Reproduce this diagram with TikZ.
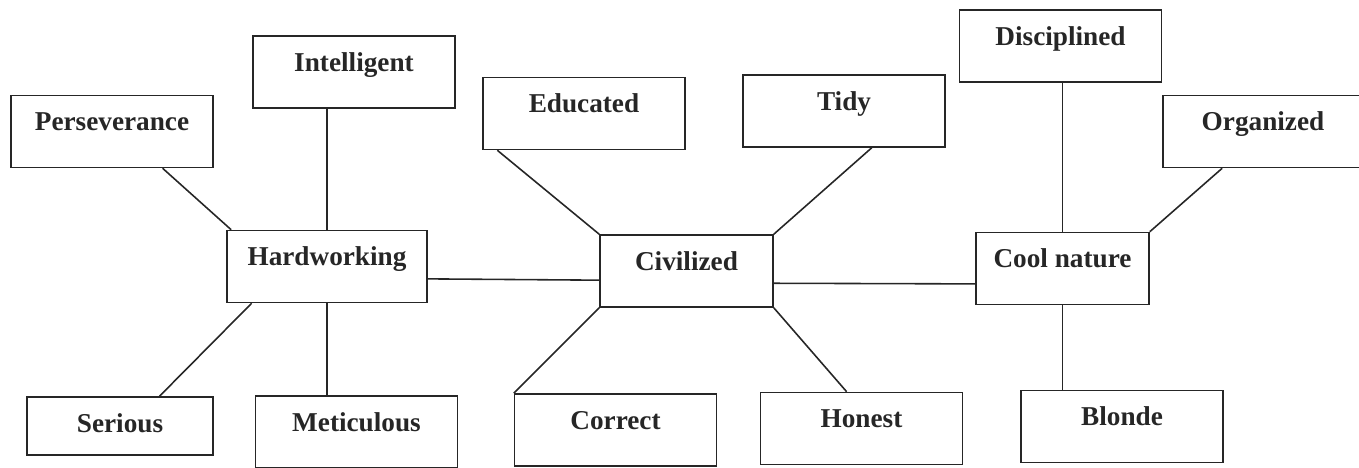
\documentclass[tikz,border=0pt]{standalone}
\usepackage{fontspec}
\setmainfont{Liberation Serif}

\begin{document}
\begin{tikzpicture}[x=0.02cm,y=-0.02cm]
    \tikzset{Trait/.style = {draw=black!85, line width=0.9pt, text=black!85,
        font=\fontsize{15.5}{18}\selectfont\bfseries, inner sep=0pt,
        minimum width=4.04cm, text height=0.7cm, text depth=0.74cm}}
    \tikzset{Hub/.style = {Trait, minimum width=3.46cm}}
    \tikzset{Link/.style = {draw=black!85, line width=0.9pt}}
    \useasboundingbox (0,0) rectangle (1359,467);

    \node[Trait, minimum width=4cm] (Hard) at (327,266.5) {Hardworking};
    \node[Hub] (Civil) at (686.5,271) {Civilized};
    \node[Hub] (Cool) at (1062.5,268.5) {Cool nature};

    \node[Trait] (Intel) at (354,72) {Intelligent};
    \node[Trait] (Perse) at (112,131.5) {Perseverance};
    \node[Trait, minimum width=3.72cm, text depth=0.46cm] (Serious) at (120,426) {Serious};
    \node[Trait] (Metic) at (356.5,432) {Meticulous};

    \node[Trait] (Educ) at (584,113.5) {Educated};
    \node[Trait] (Tidy) at (844,111) {Tidy};
    \node[Trait] (Correct) at (615.5,430) {Correct};
    \node[Trait] (Honest) at (861.5,428.5) {Honest};

    \node[Trait] (Disc) at (1060.5,46) {Disciplined};
    \node[Trait, minimum width=4cm] (Organ) at (1263,131.5) {Organized};
    \node[Trait] (Blonde) at (1122,426.5) {Blonde};

    \draw[Link] (Hard.north) -- (Hard.north |- Intel.south);
    \draw[Link] (Perse.-36.5) -- (Hard.159);
    \draw[Link] (Hard.206) -- (Serious.37);
    \draw[Link] (Hard.south) -- (Hard.south |- Metic.north);
    \draw[Link] (Hard.-7.7) -- (Civil.-174.7);

    \draw[Link] (Educ.203) -- (Civil.north west);
    \draw[Link] (Tidy.-53) -- (Civil.north east);
    \draw[Link] (Civil.south west) -- (Correct.north west);
    \draw[Link] (Civil.south east) -- (Honest.112);
    \draw[Link] (Civil.-8.5) -- (Cool.-170.5);

    \draw[Link] (Cool.north) -- (Cool.north |- Disc.south);
    \draw[Link] (Cool.north east) -- (Organ.222);
    \draw[Link] (Cool.south) -- (Cool.south |- Blonde.north);
\end{tikzpicture}
\end{document}
